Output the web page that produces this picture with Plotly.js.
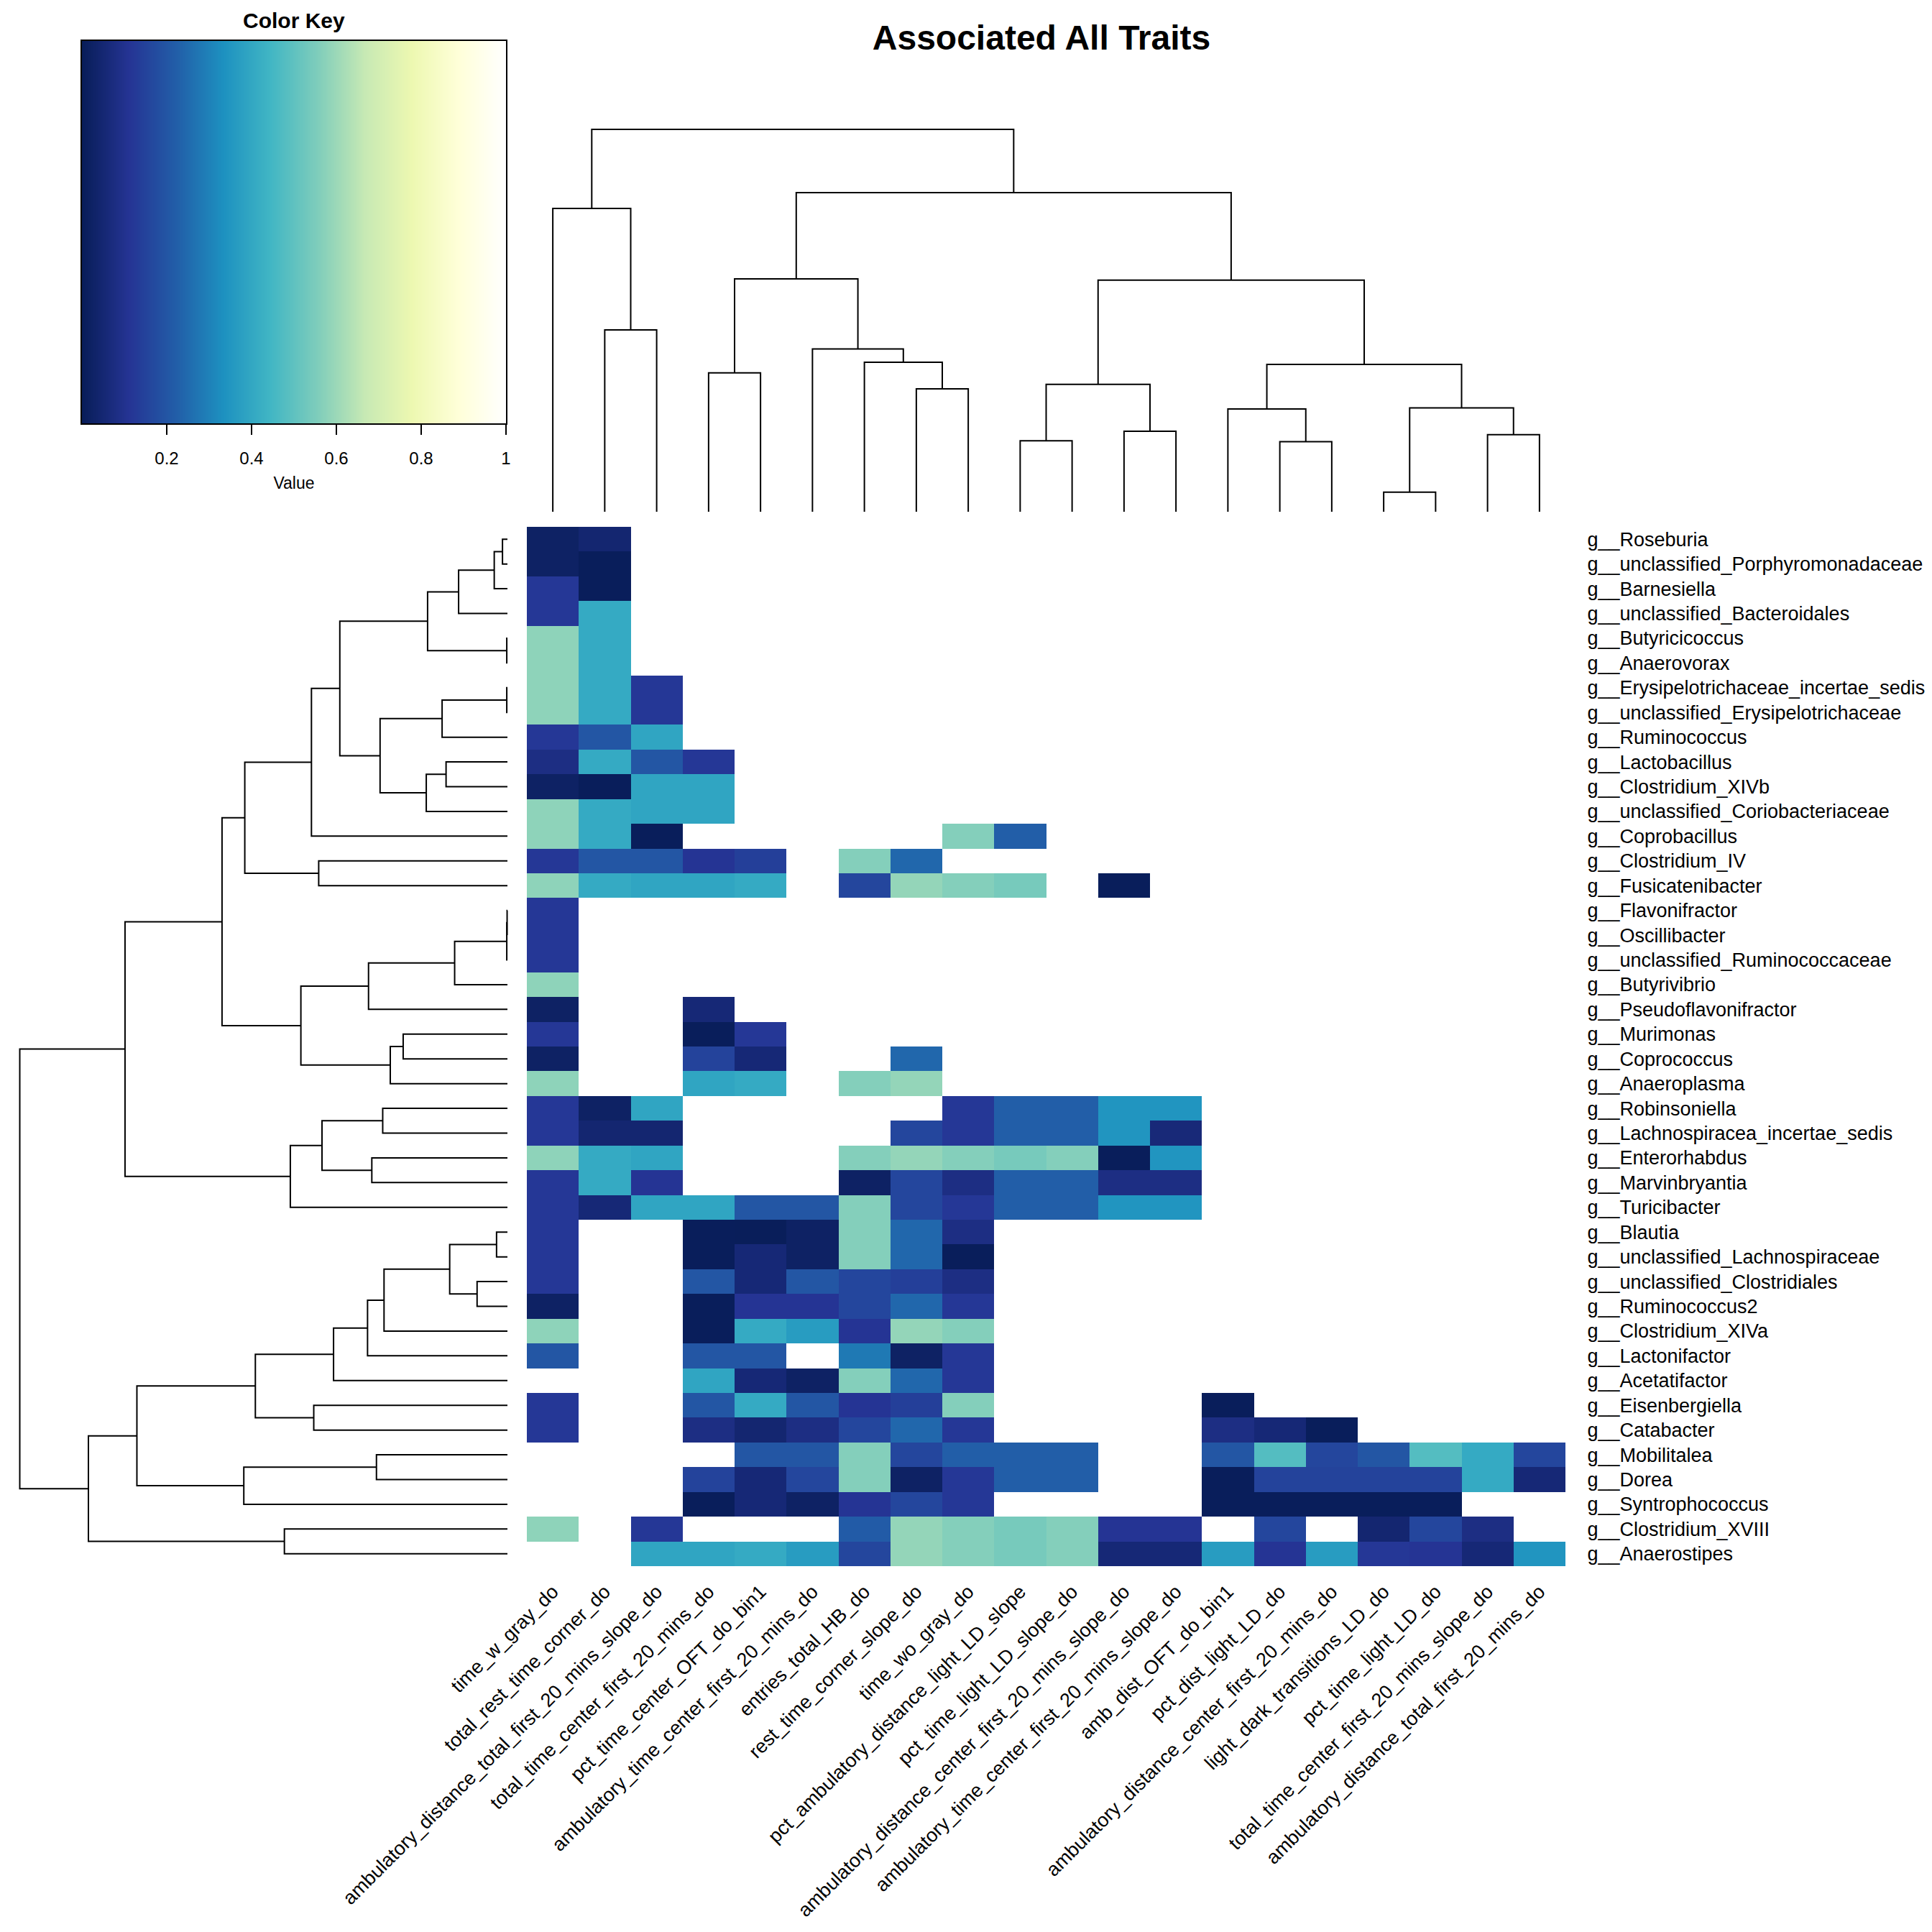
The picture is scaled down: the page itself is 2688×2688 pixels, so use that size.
<!DOCTYPE html>
<html><head><meta charset="utf-8">
<script src="https://cdn.plot.ly/plotly-3.0.1.min.js"></script>
<style>html,body{margin:0;padding:0;background:#fff}</style>
</head><body>
<div id="chart" style="width:2688px;height:2688px"></div>
<script>
const _ = null;

// ---- labels ----
const colLabels = [
  "time_w_gray_do","total_rest_time_corner_do","ambulatory_distance_total_first_20_mins_slope_do",
  "total_time_center_first_20_mins_do","pct_time_center_OFT_do_bin1","ambulatory_time_center_first_20_mins_do",
  "entries_total_HB_do","rest_time_corner_slope_do","time_wo_gray_do","pct_ambulatory_distance_light_LD_slope",
  "pct_time_light_LD_slope_do","ambulatory_distance_center_first_20_mins_slope_do",
  "ambulatory_time_center_first_20_mins_slope_do","amb_dist_OFT_do_bin1","pct_dist_light_LD_do",
  "ambulatory_distance_center_first_20_mins_do","light_dark_transitions_LD_do","pct_time_light_LD_do",
  "total_time_center_first_20_mins_slope_do","ambulatory_distance_total_first_20_mins_do"
];
const rowLabels = [
  "g__Roseburia","g__unclassified_Porphyromonadaceae","g__Barnesiella","g__unclassified_Bacteroidales",
  "g__Butyricicoccus","g__Anaerovorax","g__Erysipelotrichaceae_incertae_sedis","g__unclassified_Erysipelotrichaceae",
  "g__Ruminococcus","g__Lactobacillus","g__Clostridium_XIVb","g__unclassified_Coriobacteriaceae",
  "g__Coprobacillus","g__Clostridium_IV","g__Fusicatenibacter","g__Flavonifractor","g__Oscillibacter",
  "g__unclassified_Ruminococcaceae","g__Butyrivibrio","g__Pseudoflavonifractor","g__Murimonas",
  "g__Coprococcus","g__Anaeroplasma","g__Robinsoniella","g__Lachnospiracea_incertae_sedis",
  "g__Enterorhabdus","g__Marvinbryantia","g__Turicibacter","g__Blautia","g__unclassified_Lachnospiraceae",
  "g__unclassified_Clostridiales","g__Ruminococcus2","g__Clostridium_XIVa","g__Lactonifactor",
  "g__Acetatifactor","g__Eisenbergiella","g__Catabacter","g__Mobilitalea","g__Dorea",
  "g__Syntrophococcus","g__Clostridium_XVIII","g__Anaerostipes"
];

// ---- cell values (row order as displayed, empty = not significant) ----
const cellValues = [
  [0.022,0.045],
  [0.022,0.005],
  [0.12,0.005],
  [0.12,0.408],
  [0.579,0.408],
  [0.579,0.408],
  [0.579,0.408,0.12],
  [0.579,0.408,0.12],
  [0.12,0.2,0.393],
  [0.08,0.408,0.2,0.12],
  [0.022,0.005,0.393,0.393],
  [0.579,0.408,0.393,0.393],
  [0.579,0.408,0.005,_,_,_,_,_,0.563,0.222],
  [0.12,0.2,0.2,0.112,0.14,_,0.563,0.242],
  [0.579,0.408,0.393,0.393,0.408,_,0.16,0.588,0.563,0.541,_,0.005],
  [0.12],
  [0.12],
  [0.12],
  [0.579],
  [0.022,_,_,0.055],
  [0.12,_,_,0.005,0.12],
  [0.022,_,_,0.15,0.055,_,_,0.242],
  [0.579,_,_,0.393,0.408,_,0.563,0.588],
  [0.12,0.022,0.393,_,_,_,_,_,0.12,0.222,0.222,0.345,0.345],
  [0.12,0.045,0.045,_,_,_,_,0.16,0.12,0.222,0.222,0.345,0.06],
  [0.579,0.408,0.393,_,_,_,0.563,0.588,0.563,0.541,0.563,0.005,0.345],
  [0.12,0.408,0.112,_,_,_,0.022,0.16,0.08,0.222,0.222,0.08,0.08],
  [0.12,0.055,0.393,0.393,0.2,0.2,0.563,0.16,0.12,0.222,0.222,0.345,0.345],
  [0.12,_,_,0.005,0.003,0.022,0.563,0.242,0.08],
  [0.12,_,_,0.005,0.055,0.022,0.563,0.242,0.005],
  [0.12,_,_,0.2,0.055,0.2,0.16,0.14,0.08],
  [0.022,_,_,0.005,0.112,0.112,0.16,0.242,0.12],
  [0.579,_,_,0.005,0.408,0.366,0.112,0.588,0.563],
  [0.2,_,_,0.2,0.2,_,0.28,0.022,0.12],
  [_,_,_,0.393,0.055,0.022,0.563,0.242,0.12],
  [0.12,_,_,0.2,0.408,0.2,0.112,0.14,0.563,_,_,_,_,0.005],
  [0.12,_,_,0.08,0.045,0.08,0.16,0.242,0.12,_,_,_,_,0.08,0.055,0.005],
  [_,_,_,_,0.2,0.2,0.563,0.16,0.222,0.222,0.222,_,_,0.2,0.478,0.16,0.2,0.478,0.408,0.16],
  [_,_,_,0.15,0.055,0.16,0.563,0.022,0.12,0.222,0.222,_,_,0.005,0.15,0.15,0.15,0.15,0.408,0.055],
  [_,_,_,0.005,0.055,0.022,0.112,0.16,0.12,_,_,_,_,0.005,0.005,0.005,0.005,0.005],
  [0.579,_,0.12,_,_,_,0.215,0.588,0.563,0.541,0.563,0.112,0.112,_,0.16,_,0.045,0.16,0.08],
  [_,_,0.393,0.393,0.408,0.366,0.16,0.588,0.563,0.541,0.563,0.055,0.055,0.366,0.112,0.366,0.12,0.112,0.055,0.345]
];

// ---- dendrograms (hclust-style merges: negative = leaf in display order) ----
const colMerge = [
  [-2,-3],[-1,1],[-4,-5],[-8,-9],[-7,4],[-6,5],[3,6],[-10,-11],[-12,-13],[8,9],
  [-15,-16],[-14,11],[-17,-18],[-19,-20],[13,14],[12,15],[10,16],[7,17],[2,18]
];
const colHeights = [685,1142,523,463,563,613,877,267,303,480,264,387,74,290,391,555,872,1202,1440];

const rowMerge = [
  [-1,-2],[1,-3],[2,-4],[-5,-6],[3,4],[-7,-8],[6,-9],[-10,-11],[8,-12],[7,9],
  [5,10],[11,-13],[-14,-15],[12,13],[-16,-17],[15,-18],[16,-19],[17,-20],[-21,-22],[19,-23],
  [18,20],[14,21],[-24,-25],[-26,-27],[23,24],[25,-28],[22,26],[-29,-30],[-31,-32],[28,29],
  [30,-33],[31,-34],[32,-35],[-36,-37],[33,34],[-38,-39],[36,-40],[35,37],[-41,-42],[38,39],[27,40]
];
const rowHeights = [15,40,148,2,242,2,198,186,246,386,508,594,572,796,1,2,160,421,316,355,
  626,865,378,411,562,658,1159,33,92,175,374,424,527,587,764,397,799,1123,676,1270,1478];

// ---- colour key ----
const keyColors = ['#081d58','#253494','#225ea8','#1d91c0','#41b6c4','#7fcdbb','#c7e9b4','#edf8b1','#ffffd9','#ffffff'];
const keyRange = [0, 1];
const keyTicks = [0.2, 0.4, 0.6, 0.8, 1];
const keyTickText = ['0.2','0.4','0.6','0.8','1'];

// ================= build =================
const colorscale = keyColors.map((c, i) => [i / (keyColors.length - 1), c]);
const colIdx = colLabels.map((_, i) => i + 1);
const rowIdx = rowLabels.map((_, i) => i + 1);
const z = cellValues.map(r => colLabels.map((_, j) => (r[j] === undefined ? null : r[j])));

function dendro(merge, heights) {
  const pos = [], hgt = [], P = [], H = [];
  const info = ref => ref < 0 ? {p: -ref, h: 0} : {p: pos[ref - 1], h: hgt[ref - 1]};
  merge.forEach((m, k) => {
    const L = info(m[0]), R = info(m[1]), h = heights[k];
    pos[k] = (L.p + R.p) / 2; hgt[k] = h;
    P.push(L.p, L.p, R.p, R.p, null);
    H.push(L.h, h, h, R.h, null);
  });
  return {P, H};
}

const W = 2688;
const px = v => v / W;
const py = v => 1 - v / W;
const FONT = 'Liberation Sans, Arial, Helvetica, sans-serif';

// geometry (pixels)
const hmL = 733, hmR = 2178, hmT = 733, hmB = 2179;
const cdTop = 180, cdBot = 712;
const rdLeft = 27.5, rdRight = 706;

const cd = dendro(colMerge, colHeights);
const rd = dendro(rowMerge, rowHeights);
const cRoot = Math.max(...colHeights), rRoot = Math.max(...rowHeights);
const cPad = cRoot * 0.02, rPad = rRoot * 0.02;
const cScale = (cdBot - cdTop) / cRoot, rScale = (rdRight - rdLeft) / rRoot;

const traces = [
  {type: 'heatmap', z: z, x: colIdx, y: rowIdx, colorscale: colorscale, zmin: 0, zmax: 1,
   showscale: false, hoverongaps: false, xaxis: 'x', yaxis: 'y'},
  {type: 'scatter', mode: 'lines', x: cd.P, y: cd.H, line: {color: '#000', width: 2},
   xaxis: 'x2', yaxis: 'y2', hoverinfo: 'skip', connectgaps: false},
  {type: 'scatter', mode: 'lines', x: rd.H, y: rd.P, line: {color: '#000', width: 2},
   xaxis: 'x3', yaxis: 'y3', hoverinfo: 'skip', connectgaps: false},
  {type: 'heatmap', z: [keyRange, keyRange], x: keyRange, y: [0, 1], zsmooth: 'best',
   colorscale: colorscale, zmin: 0, zmax: 1, showscale: false, xaxis: 'x4', yaxis: 'y4', hoverinfo: 'skip'}
];

const hidden = {visible: false, showgrid: false, zeroline: false};
const layout = {
  width: W, height: W, margin: {l: 0, r: 0, t: 0, b: 0},
  paper_bgcolor: '#fff', plot_bgcolor: 'rgba(0,0,0,0)',
  showlegend: false,
  font: {family: FONT, color: '#000', size: 27},
  title: {text: '<b>Associated All Traits</b>', x: px(1449), xanchor: 'center', xref: 'paper',
          y: py(52), yanchor: 'middle', yref: 'container', font: {family: FONT, size: 48, color: '#000'}},
  xaxis: {domain: [px(hmL), px(hmR)], range: [0.5, 20.5], anchor: 'y',
          tickmode: 'array', tickvals: colIdx, ticktext: colLabels, tickangle: -45,
          ticks: 'outside', ticklen: 8, tickcolor: 'rgba(0,0,0,0)',
          tickfont: {family: FONT, size: 27, color: '#000'},
          showgrid: false, zeroline: false, showline: false, automargin: false, fixedrange: true},
  yaxis: {domain: [py(hmB), py(hmT)], range: [42.5, 0.5], anchor: 'x', side: 'right',
          tickmode: 'array', tickvals: rowIdx, ticktext: rowLabels,
          ticks: 'outside', ticklen: 24, tickcolor: 'rgba(0,0,0,0)',
          tickfont: {family: FONT, size: 27, color: '#000'},
          showgrid: false, zeroline: false, showline: false, automargin: false, fixedrange: true},
  xaxis2: Object.assign({}, hidden, {domain: [px(hmL), px(hmR)], range: [0.5, 20.5], anchor: 'y2'}),
  yaxis2: Object.assign({}, hidden, {domain: [py(cdBot + cPad * cScale), py(cdTop - cPad * cScale)],
          range: [-cPad, cRoot + cPad], anchor: 'x2'}),
  xaxis3: Object.assign({}, hidden, {domain: [px(rdLeft - rPad * rScale), px(rdRight + rPad * rScale)],
          range: [rRoot + rPad, -rPad], anchor: 'y3'}),
  yaxis3: Object.assign({}, hidden, {domain: [py(hmB), py(hmT)], range: [42.5, 0.5], anchor: 'x3'}),
  xaxis4: {domain: [px(114), px(704)], range: keyRange, anchor: 'y4',
           tickmode: 'array', tickvals: keyTicks, ticktext: keyTickText,
           ticks: 'outside', ticklen: 14, tickwidth: 2, tickcolor: '#000', ticklabelstandoff: 12,
           tickfont: {family: FONT, size: 24, color: '#000'},
           showline: true, mirror: true, linewidth: 2, linecolor: '#000',
           showgrid: false, zeroline: false,
           title: {text: 'Value', font: {family: FONT, size: 23, color: '#000'}, standoff: 14}},
  yaxis4: {domain: [py(589), py(57)], range: [0, 1], anchor: 'x4',
           showticklabels: false, ticks: '', showline: true, mirror: true, linewidth: 2, linecolor: '#000',
           showgrid: false, zeroline: false},
  annotations: [
    {text: '<b>Color Key</b>', x: px(409), y: py(29), xref: 'paper', yref: 'paper',
     xanchor: 'center', yanchor: 'middle', showarrow: false,
     font: {family: FONT, size: 30, color: '#000'}}
  ]
};

Plotly.newPlot('chart', traces, layout, {staticPlot: true, displayModeBar: false});
</script>
</body></html>
